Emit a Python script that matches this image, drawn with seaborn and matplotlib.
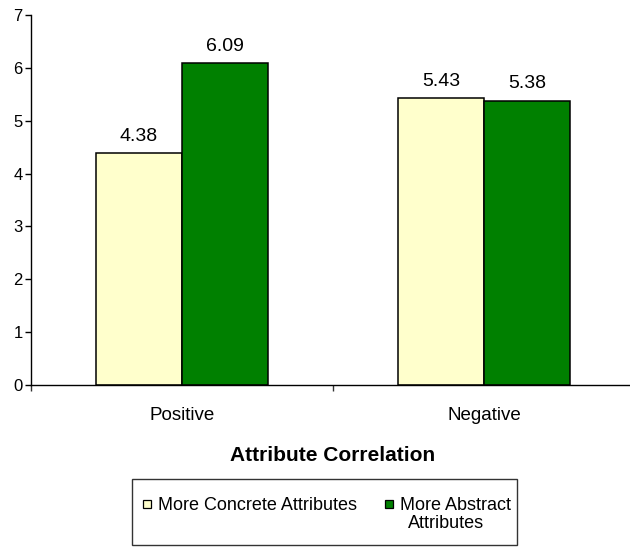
import matplotlib
matplotlib.use("Agg")
import matplotlib.pyplot as plt
from matplotlib.lines import Line2D
from matplotlib.patches import Rectangle
import seaborn as sns
import pandas as pd

categories = ["Positive", "Negative"]
series = ["More Concrete Attributes", "More Abstract Attributes"]
concrete_values = [4.38, 5.43]
abstract_values = [6.09, 5.38]
colors = ["#FFFFCC", "#008000"]
y_ticks = [0, 1, 2, 3, 4, 5, 6, 7]

df = pd.DataFrame({
    "Attribute Correlation": categories * 2,
    "Series": [series[0]] * 2 + [series[1]] * 2,
    "Value": concrete_values + abstract_values,
})

sns.set_style("white", {
    "xtick.bottom": True, "ytick.left": True,
    "text.color": "black", "axes.labelcolor": "black",
    "xtick.color": "black", "ytick.color": "black",
    "axes.edgecolor": "black",
})
plt.rcParams["font.family"] = ["Liberation Sans", "DejaVu Sans"]

W, H = 630, 547
fig = plt.figure(figsize=(W / 100, H / 100), dpi=100)
ax = fig.add_axes([31 / W, 162 / H, 604 / W, 370 / H])

sns.barplot(
    data=df, x="Attribute Correlation", y="Value", hue="Series",
    hue_order=series, order=categories, palette=colors,
    width=0.57, edgecolor="black", linewidth=1.1, saturation=1,
    legend=False, ax=ax,
)

for cont in ax.containers:
    ax.bar_label(cont, fmt="%.2f", padding=6, fontsize=14, color="black")

ax.set_xlim(-0.5, 1.5)
ax.set_ylim(0, 7)
ax.set_yticks(y_ticks)
ax.set_yticklabels([str(t) for t in y_ticks], fontsize=12)
ax.tick_params(axis="y", left=True, direction="out", length=4, width=1, pad=2,
               colors="black")

# category separators as major ticks, category names as minor ticks
ax.set_xticks([-0.5, 0.5, 1.5])
ax.set_xticklabels([])
ax.set_xticks([0, 1], minor=True)
ax.set_xticklabels(categories, minor=True, fontsize=13.5)
ax.tick_params(axis="x", which="major", bottom=True, direction="out", length=4,
               width=1, colors="#333333")
ax.tick_params(axis="x", which="minor", bottom=True, length=0, pad=16,
               labelcolor="black")
ax.set_xlabel("Attribute Correlation", fontsize=15, fontweight="bold",
              labelpad=16, color="black")
ax.set_ylabel("")

for side in ["top", "right"]:
    ax.spines[side].set_visible(False)
for side in ["left", "bottom"]:
    ax.spines[side].set_color("black")
    ax.spines[side].set_linewidth(1)

# legend
handles = [
    Line2D([], [], marker="s", linestyle="none", markersize=6,
           markerfacecolor=c, markeredgecolor="black", markeredgewidth=0.9)
    for c in colors
]
fig.legend(
    handles, ["More Concrete Attributes", "More Abstract"], ncol=2,
    loc="upper left", bbox_to_anchor=(142 / W, (H - 497) / H),
    frameon=False, fontsize=13, handlelength=0.6, handletextpad=0.3,
    columnspacing=1.45, borderpad=0, borderaxespad=0, labelcolor="black",
)
fig.text(446 / W, (H - 524) / H, "Attributes", fontsize=13, ha="center",
         va="center", color="black")
fig.patches.append(Rectangle((132 / W, 2 / H), (517 - 132) / W, (545 - 479) / H,
                             transform=fig.transFigure, fill=False,
                             edgecolor="#333333", linewidth=1))

fig.savefig("out.png", dpi=100)
